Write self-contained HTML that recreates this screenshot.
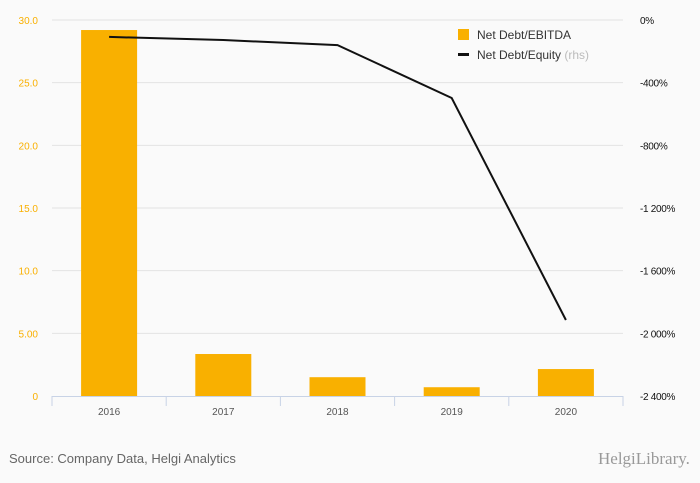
<!DOCTYPE html>
<html><head><meta charset="utf-8"><style>
body{margin:0;background:#fafafa;font-family:"Liberation Sans",sans-serif;}
</style></head><body>
<svg id="chart" width="700" height="483" xmlns="http://www.w3.org/2000/svg" style="display:block">
<rect x="0" y="0" width="700" height="483" fill="#fafafa"/>
<g id="grid"></g><g id="bars"></g><g id="line"></g><g id="axes"></g>
<g>
<rect x="458" y="29" width="11" height="11" fill="#f9b000"/>
<text x="477" y="39" font-size="12" fill="#333">Net Debt/EBITDA</text>
<rect x="458" y="53" width="11" height="3" fill="#111"/>
<text x="477" y="59" font-size="12" fill="#333">Net Debt/Equity <tspan fill="#bbb">(rhs)</tspan></text>
</g>
<text x="9" y="463" font-size="13" fill="#666">Source: Company Data, Helgi Analytics</text>
<text x="598" y="464" font-size="17" font-family="Liberation Serif,serif" fill="#999">HelgiLibrary.</text>
</svg>
<script>
const categories=["2016","2017","2018","2019","2020"];
const ebitda=[29.2,3.35,1.5,0.7,2.15];
const equity=[-108,-128,-160,-498,-1915];
const leftTicks=[0,5,10,15,20,25,30];
const leftLabels=["0","5.00","10.0","15.0","20.0","25.0","30.0"];
const rightTicks=[0,-400,-800,-1200,-1600,-2000,-2400];
const rightLabels=["0%","-400%","-800%","-1 200%","-1 600%","-2 000%","-2 400%"];
const NS="http://www.w3.org/2000/svg";
const x0=52,x1=623,yTop=20,yBot=396;
const bw=(x1-x0)/categories.length;
const xc=i=>x0+bw*(i+0.5);
const yL=v=>yBot-(v/30)*(yBot-yTop);
const yR=v=>yTop+(v/-2400)*(yBot-yTop);
function mk(tag,attrs,parent,txt){const e=document.createElementNS(NS,tag);for(const k in attrs)e.setAttribute(k,attrs[k]);if(txt!==undefined)e.textContent=txt;document.getElementById(parent).appendChild(e);return e;}
leftTicks.forEach((t,i)=>{
 if(t>0){const g=mk('line',{x1:x0,x2:x1,y1:yL(t),y2:yL(t),stroke:'#e3e3e3','stroke-width':1},'grid');
 
 }
 const l=mk('text',{x:38,y:yL(t)+4,'font-size':10,fill:'#f9b000','text-anchor':'end'},'axes',leftLabels[i]);
 
 
});
rightTicks.forEach((t,i)=>{
 const l=mk('text',{x:640,y:yR(t)+4,'font-size':10,fill:'#111','letter-spacing':'-0.3'},'axes',rightLabels[i]);
 
 
});
const ax=mk('line',{x1:x0,x2:x1,y1:yBot+0.5,y2:yBot+0.5,stroke:'#c8d3e6'},'axes');


categories.forEach((c,i)=>{
 const tk=mk('line',{x1:x0+bw*i,x2:x0+bw*i,y1:yBot,y2:yBot+10,stroke:'#c8d3e6'},'axes');
 
 
 const l=mk('text',{x:xc(i),y:yBot+19,'font-size':10,fill:'#555','text-anchor':'middle'},'axes',c);
 
 
 const b=mk('rect',{x:xc(i)-28,y:yL(ebitda[i]),width:56,height:yBot-yL(ebitda[i]),fill:'#f9b000'},'bars');
 
 
});
const p=mk('polyline',{points:equity.map((v,i)=>xc(i)+','+yR(v)).join(' '),fill:'none',stroke:'#111','stroke-width':2},'line');


const lastTick=mk('line',{x1:x1,x2:x1,y1:yBot,y2:yBot+10,stroke:'#c8d3e6'},'axes');


</script>
</body></html>
